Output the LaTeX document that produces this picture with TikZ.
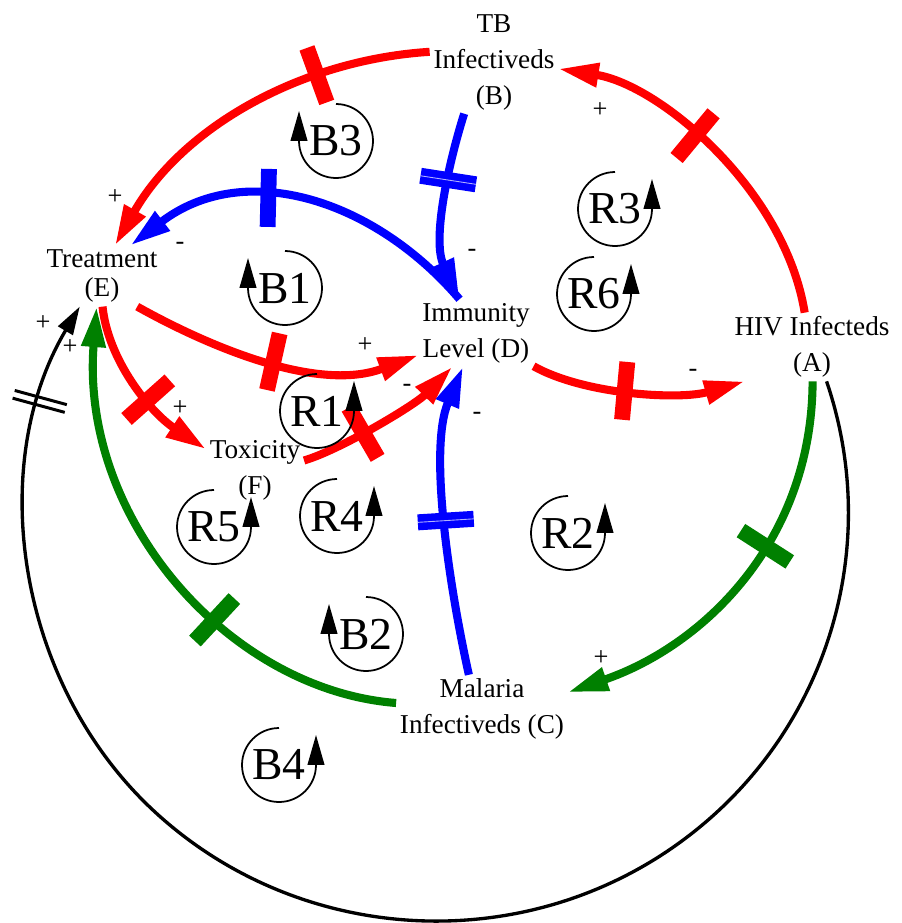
\documentclass[tikz,border=0pt]{standalone}
\usepackage{fontspec}
\setmainfont{Liberation Serif}
\usetikzlibrary{arrows.meta,decorations.markings}

\begin{document}
\begin{tikzpicture}[x=0.02cm,y=-0.02cm,
  var/.style={align=center,inner sep=2pt,font=\fontsize{15.5}{20.5}\selectfont},
  sign/.style={inner sep=0pt,font=\fontsize{15}{15}\selectfont},
  link/.style={line width=4.6pt,-{Triangle[length=23pt,width=13pt]}},
  gate/.style={postaction={decorate,decoration={markings,
    mark=at position #1 with {\draw[arrows=-,line width=9pt] (0,-29) -- (0,29);}}}},
  delay/.style={postaction={decorate,decoration={markings,
    mark=at position #1 with {\draw[arrows=-,line width=4.3pt,double=blue!30!white,double distance=0.5pt] (0,-28) -- (0,28);}}}},
  wire/.style={line width=1.9pt,-{Triangle[length=16pt,width=9.5pt]}},
  slash/.style={postaction={decorate,decoration={markings,
    mark=at position #1 with {\draw[arrows=-,line width=1.7pt] (-4,-27) -- (-4,27) (4,-27) -- (4,27);}}}},
  loopmark/.style={circle,minimum size=1.48cm,inner sep=0pt,outer sep=0pt,font=\fontsize{26}{26}\selectfont},
  turn/.style={line width=1pt,-{Triangle[length=17pt,width=9.5pt]}}]
\useasboundingbox (0,0) rectangle (902,923);

% variables
\node[var] (tb) at (494,62) {TB\\Infectiveds\\(B)};
\node[var] (trt) at (102,276) {Treatment\\[-3.5pt](E)};
\node[var] (imm) at (476,333) {Immunity\\Level (D)};
\node[var] (hiv) at (812,347) {HIV Infecteds\\(A)};
\node[var] (tox) at (255,470) {Toxicity\\(F)};
\node[var] (mal) at (482,709) {Malaria\\Infectiveds (C)};

% red links
\draw[link,red,gate=0.3] (tb.171) .. controls (300,60) and (182,128) .. (trt.67);
\draw[link,red,gate=0.5] (trt.-41) .. controls (215,350) and (320,392) .. (imm.201);
\draw[link,red,gate=0.58] (trt.-89) .. controls (108,360) and (150,412) .. (tox.157);
\draw[link,red,gate=0.37] (tox.11) .. controls (340,450) and (415,405) .. (imm.235);
\draw[link,red,gate=0.44] (imm.-30) .. controls (585,395) and (680,400) .. (hiv.207);
\draw[link,red,gate=0.58] (hiv.102) .. controls (785,190) and (660,85) .. (tb.-6);
% blue links
\draw[link,blue,gate=0.6] (imm.116) .. controls (375,200) and (245,158) .. (trt.47);
\draw[link,blue,delay=0.36] (tb.240) .. controls (448,165) and (432,240) .. (imm.116);
\draw[link,blue,delay=0.5] (mal.111) .. controls (450,590) and (428,450) .. (imm.249);
% green links
\draw[link,green!50!black,gate=0.41] (hiv.-89) .. controls (812,540) and (705,645) .. (mal.11);
\draw[link,green!50!black,gate=0.37] (mal.176) .. controls (230,690) and (80,520) .. (trt.260);
% outer loop
\draw[wire,slash=0.937] (hiv.-67) .. controls (887,559) and (819,754) .. (660,856)
  .. controls (502,957) and (293,939) .. (155,812)
  .. controls (17,685) and (-15,466) .. (trt.234);

% polarities
\node[sign] (p1) at (115,197) {+};
\node[sign] (m1) at (180,246) {-};
\node[sign] (p2) at (365,345) {+};
\node[sign] (p3) at (180,408) {+};
\node[sign] (m2) at (407,388) {-};
\node[sign] (m3) at (477,416) {-};
\node[sign] (m4) at (472,253) {-};
\node[sign] (m5) at (693,373) {-};
\node[sign] (p4) at (600,110) {+};
\node[sign] (p5) at (601,658) {+};
\node[sign] (p6) at (43,323) {+};
\node[sign] (p7) at (70,347) {+};

% loop markers
\node[loopmark] (b3) at (336,141) {B3};
\draw[turn] (b3.north) arc[start angle=90,end angle=-180,radius=0.74cm] -- ++(0,-30);
\node[loopmark] (b1) at (285,288) {B1};
\draw[turn] (b1.north) arc[start angle=90,end angle=-180,radius=0.74cm] -- ++(0,-30);
\node[loopmark] (b2) at (366,634) {B2};
\draw[turn] (b2.north) arc[start angle=90,end angle=-180,radius=0.74cm] -- ++(0,-30);
\node[loopmark] (r3) at (615,209) {R3};
\draw[turn] (r3.north) arc[start angle=90,end angle=360,radius=0.74cm] -- ++(0,-30);
\node[loopmark] (r6) at (594,294) {R6};
\draw[turn] (r6.north) arc[start angle=90,end angle=360,radius=0.74cm] -- ++(0,-30);
\node[loopmark] (r1) at (317,411) {R1};
\draw[turn] (r1.north) arc[start angle=90,end angle=360,radius=0.74cm] -- ++(0,-30);
\node[loopmark] (r5) at (214,527) {R5};
\draw[turn] (r5.north) arc[start angle=90,end angle=360,radius=0.74cm] -- ++(0,-30);
\node[loopmark] (r4) at (337,516) {R4};
\draw[turn] (r4.north) arc[start angle=90,end angle=360,radius=0.74cm] -- ++(0,-30);
\node[loopmark] (r2) at (568,533) {R2};
\draw[turn] (r2.north) arc[start angle=90,end angle=360,radius=0.74cm] -- ++(0,-30);
\node[loopmark] (b4) at (279,765) {B4};
\draw[turn] (b4.north) arc[start angle=90,end angle=360,radius=0.74cm] -- ++(0,-30);
\end{tikzpicture}
\end{document}
